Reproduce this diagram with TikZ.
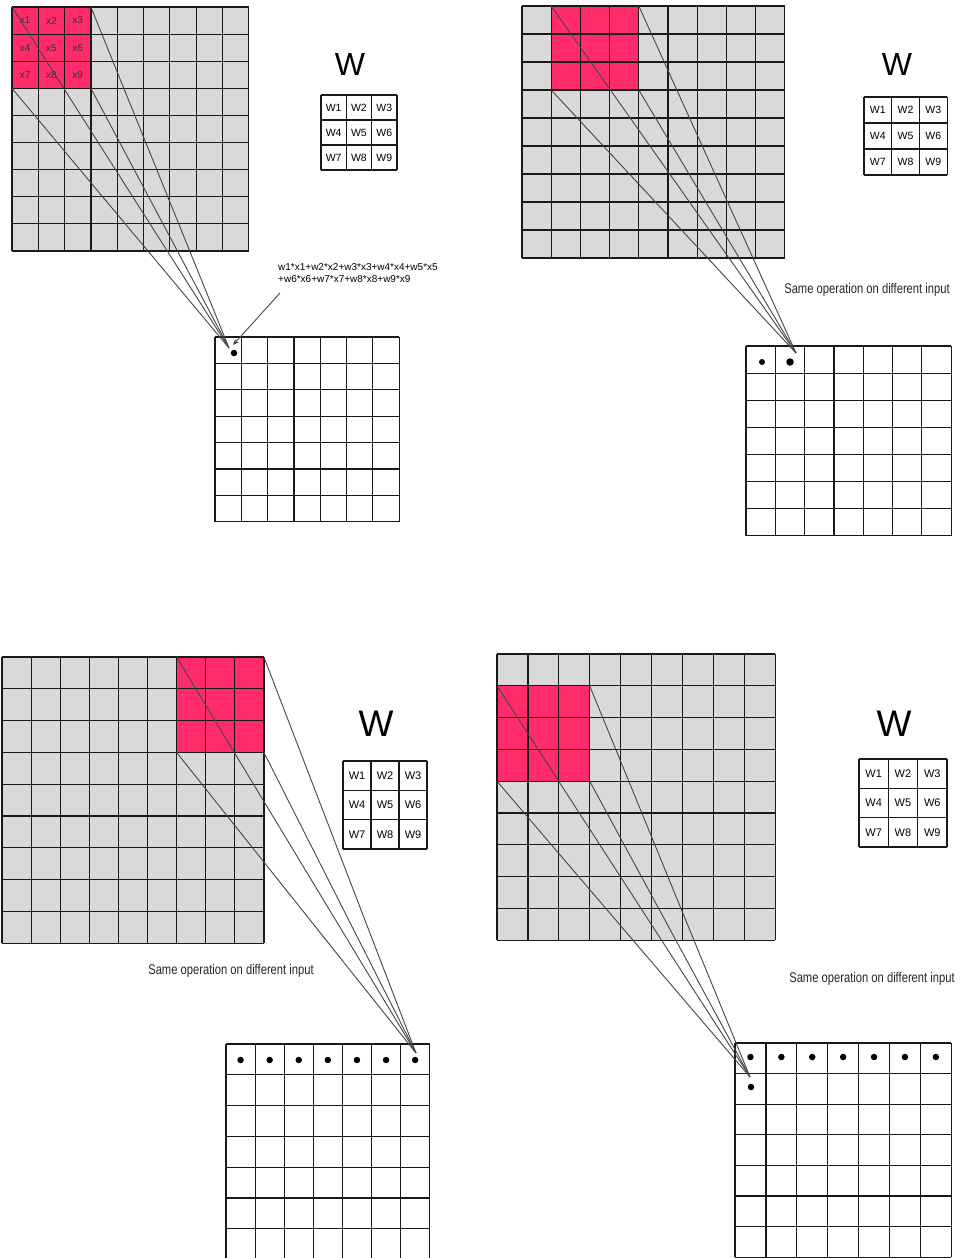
\documentclass[tikz,border=0pt]{standalone}
\usepackage{fontspec}
\setmainfont{Liberation Sans}
\usetikzlibrary{arrows.meta}
\definecolor{cellgrey}{RGB}{217,217,217}
\definecolor{pinkc}{RGB}{255,43,107}
\definecolor{connc}{RGB}{70,70,70}
% #1 x0, #2 y0, #3 cols, #4 rows, #5 cw, #6 ch
\newcommand\mygridlines[6]{%
  \foreach \i in {0,...,#3} {\draw[gridline] ({#1+\i*#5},#2) -- ({#1+\i*#5},{#2+#4*#6});}
  \foreach \j in {0,...,#4} {\draw[gridline] (#1,{#2+\j*#6}) -- ({#1+#3*#5},{#2+\j*#6});}
}
% weight table: #1 x0, #2 y0, #3 cw, #4 ch, #5 font size, #6 name prefix
\newcommand\mywtable[6]{%
  \fill[white] (#1,#2) rectangle ({#1+3*#3},{#2+3*#4});
  \mygridlines{#1}{#2}{3}{3}{#3}{#4}
  \foreach \r in {0,1,2} {\foreach \c in {0,1,2} {%
    \pgfmathtruncatemacro\n{3*\r+\c+1}
    \node[font=\fontsize{#5}{#5}\selectfont, inner sep=0pt] (#6w\n) at ({#1+#3*(\c+0.5)},{#2+#4*(\r+0.5)}) {W\n};}}
}
\tikzset{
  gridline/.style={draw=black!90, line width=1.2pt},
  connline/.style={draw=connc, line width=0.9pt},
  dotnode/.style={circle, fill=black, inner sep=0pt, minimum size=6.5pt},
  sameop/.style={font=\fontsize{14}{14}\selectfont, xscale=0.8, text=black!85},
  bigw/.style={inner sep=0pt},
}
\begin{document}
\begin{tikzpicture}[x=1pt,y=-1pt]
\useasboundingbox (0,0) rectangle (963,1258);
\fill[white] (0,0) rectangle (963,1258);

%%%%%%%%%%%%%%%% Panel 1 (top left)
\fill[cellgrey] (12,7) rectangle ({12+9*26.3},{7+9*27.1});
\fill[pinkc] (12,7) rectangle ({12+3*26.3},{7+3*27.1});
\mygridlines{12}{7}{9}{9}{26.3}{27.1}
\foreach \r in {0,1,2} {\foreach \c in {0,1,2} {%
  \pgfmathtruncatemacro\n{3*\r+\c+1}
  \node[font=\fontsize{10}{10}\selectfont, text=black!80, inner sep=0pt] (x\n) at ({12+26.3*(\c+0.5)},{7+27.1*(\r+0.5)}) {x\n};}}
\coordinate (p1a) at (12,7);
\coordinate (p1b) at ({12+3*26.3},7);
\coordinate (p1c) at (12,{7+3*27.1});
\coordinate (p1d) at ({12+3*26.3},{7+3*27.1});
\node[bigw, font=\fontsize{32}{32}\selectfont] (W1) at (350,64) {W};
\mywtable{321}{95}{25.3}{25}{10.5}{a}
\fill[white] (215,337) rectangle ({215+7*26.3},{337+7*26.4});
\mygridlines{215}{337}{7}{7}{26.3}{26.4}
\coordinate (c1) at (229,348);
\node[dotnode] (d1) at (234,353) {};
\foreach \p in {p1a,p1b,p1c,p1d} {\draw[connline] (\p) -- (c1);}
\node[anchor=north west, align=left, inner sep=0pt, font=\fontsize{10}{12}\selectfont] (f1) at (278,263) {w1*x1+w2*x2+w3*x3+w4*x4+w5*x5\\+w6*x6+w7*x7+w8*x8+w9*x9};
\coordinate (a1s) at (280,293);
\coordinate (a1e) at (233,345);
\draw[connline, -{Stealth[length=6pt,width=5pt]}] (a1s) -- (a1e);

%%%%%%%%%%%%%%%% Panel 2 (top right)
\fill[cellgrey] (522,6) rectangle ({522+9*29.2},{6+9*28});
\fill[pinkc] ({522+29.2},6) rectangle ({522+4*29.2},{6+3*28});
\mygridlines{522}{6}{9}{9}{29.2}{28}
\coordinate (p2a) at ({522+29.2},6);
\coordinate (p2b) at ({522+4*29.2},6);
\coordinate (p2c) at ({522+29.2},{6+3*28});
\coordinate (p2d) at ({522+4*29.2},{6+3*28});
\node[bigw, font=\fontsize{32}{32}\selectfont] (W2) at (897,64) {W};
\mywtable{864}{97}{27.7}{26}{10.5}{b}
\node[sameop] (s2) at (867,290) {Same operation on different input};
\fill[white] (746,346) rectangle ({746+7*29.3},{346+7*27.1});
\mygridlines{746}{346}{7}{7}{29.3}{27.1}
\coordinate (c2) at (796,353);
\node[dotnode, minimum size=6pt] (d2a) at (762,362) {};
\node[dotnode, minimum size=7.5pt] (d2b) at (790,362) {};
\foreach \p in {p2a,p2b,p2c,p2d} {\draw[connline] (\p) -- (c2);}

%%%%%%%%%%%%%%%% Panel 3 (bottom left)
\fill[cellgrey] (2,657) rectangle ({2+9*29.1},{657+9*31.8});
\fill[pinkc] ({2+6*29.1},657) rectangle ({2+9*29.1},{657+3*31.8});
\mygridlines{2}{657}{9}{9}{29.1}{31.8}
\coordinate (p3a) at ({2+6*29.1},657);
\coordinate (p3b) at ({2+9*29.1},657);
\coordinate (p3c) at ({2+6*29.1},{657+3*31.8});
\coordinate (p3d) at ({2+9*29.1},{657+3*31.8});
\node[bigw, font=\fontsize{37}{37}\selectfont] (W3) at (376,724) {W};
\mywtable{343}{761}{28}{29.3}{11}{c}
\node[sameop] (s3) at (231,971) {Same operation on different input};
\fill[white] (226,1044) rectangle ({226+7*29.1},{1044+7*30.8});
\mygridlines{226}{1044}{7}{7}{29.1}{30.8}
\coordinate (c3) at (416,1053);
\foreach \k in {0,...,6} {\node[dotnode] (d3\k) at ({226+29.1*(\k+0.5)},1060) {};}
\foreach \p in {p3a,p3b,p3c,p3d} {\draw[connline] (\p) -- (c3);}

%%%%%%%%%%%%%%%% Panel 4 (bottom right)
\fill[cellgrey] (497,654) rectangle ({497+9*30.9},{654+9*31.8});
\fill[pinkc] (497,{654+31.8}) rectangle ({497+3*30.9},{654+4*31.8});
\mygridlines{497}{654}{9}{9}{30.9}{31.8}
\coordinate (p4a) at (497,{654+31.8});
\coordinate (p4b) at ({497+3*30.9},{654+31.8});
\coordinate (p4c) at (497,{654+4*31.8});
\coordinate (p4d) at ({497+3*30.9},{654+4*31.8});
\node[bigw, font=\fontsize{37}{37}\selectfont] (W4) at (894,724) {W};
\mywtable{859}{759}{29.3}{29.3}{11}{d}
\node[sameop] (s4) at (872,979) {Same operation on different input};
\fill[white] (735,1043) rectangle ({735+7*30.9},{1043+7*30.6});
\mygridlines{735}{1043}{7}{7}{30.9}{30.6}
\coordinate (c4) at (750,1077);
\foreach \k in {0,...,6} {\node[dotnode] (d4\k) at ({735+30.9*(\k+0.5)},1057) {};}
\node[dotnode] (d4r) at (751,1087) {};
\foreach \p in {p4a,p4b,p4c,p4d} {\draw[connline] (\p) -- (c4);}
\end{tikzpicture}
\end{document}
